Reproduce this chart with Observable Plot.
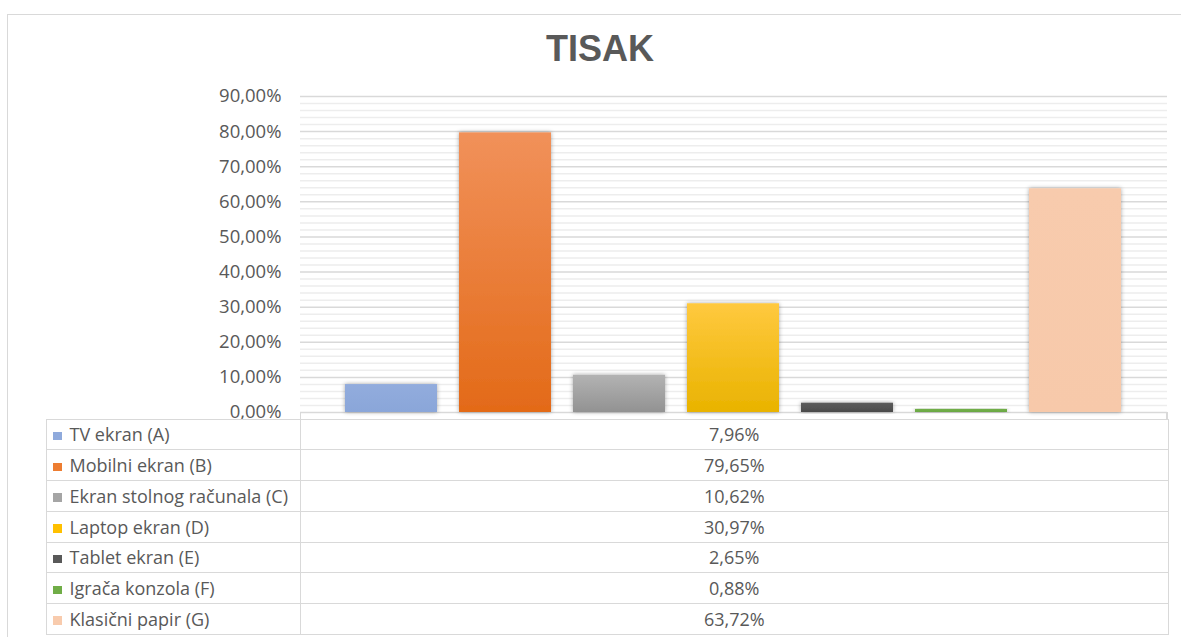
<!DOCTYPE html>
<html>
<head>
<meta charset="utf-8">
<script src="https://cdn.jsdelivr.net/npm/d3@7"></script>
<script src="https://cdn.jsdelivr.net/npm/@observablehq/plot@0.6"></script>
<style>
  html, body { margin: 0; padding: 0; background: #fff; }
  body { width: 1181px; height: 637px; position: relative; overflow: hidden; font-family: "Open Sans", sans-serif; }
  #frame { position: absolute; left: 7px; top: 14px; width: 1200px; height: 700px; border: 1.5px solid #d9d9d9; box-sizing: border-box; }
  #title { position: absolute; left: 0; width: 1200px; top: 28px; text-align: center; font-family: "Liberation Sans", Arial, sans-serif; font-weight: bold; font-size: 36px; color: #595959; }
  #chart { position: absolute; left: 0; top: 0; }
  #table { position: absolute; left: 46px; top: 418.5px; width: 1121.5px; border-collapse: collapse; table-layout: fixed; }
  #table td { border: 1.5px solid #d9d9d9; height: 30.75px; box-sizing: border-box; padding: 0; color: #595959; font-size: 18px; line-height: 1; }
  #table td.lab { padding-left: 6px; white-space: nowrap; overflow: hidden; }
  #table td.val { text-align: center; }
  .sw { display: inline-block; width: 8.5px; height: 8.5px; margin-right: 8px; vertical-align: 1px; }
  .tick { position: absolute; top: 412px; width: 1.5px; height: 8px; background: #d9d9d9; }
</style>
</head>
<body>
<div id="frame"></div>
<div id="title">TISAK</div>
<div id="chart"></div>
<table id="table"><colgroup><col style="width:254px"><col style="width:867.5px"></colgroup><tbody></tbody></table>
<div class="tick" style="left:299.5px"></div>
<div class="tick" style="left:1166px"></div>
<script>
const series = ["TV ekran (A)", "Mobilni ekran (B)", "Ekran stolnog računala (C)", "Laptop ekran (D)", "Tablet ekran (E)", "Igrača konzola (F)", "Klasični papir (G)"];
const values = [0.0796, 0.7965, 0.1062, 0.3097, 0.0265, 0.0088, 0.6372];
const valueLabels = ["7,96%", "79,65%", "10,62%", "30,97%", "2,65%", "0,88%", "63,72%"];
const swatch = ["#8faadc", "#ed7d31", "#a5a5a5", "#ffc000", "#595959", "#70ad47", "#f8cbad"];
const gradTop = ["#92acdd", "#f1915a", "#b3b3b3", "#ffc93f", "#5c5c5c", "#72af49", "#f8cbad"];
const gradBottom = ["#8aa6d9", "#e36a18", "#929292", "#e9b300", "#4b4b4b", "#6aa843", "#f7c9aa"];
const majorTicks = d3.range(0, 0.9001, 0.1);
const minorTicks = d3.range(0, 0.9001, 0.02).filter(v => Math.abs(Math.round(v * 10) - v * 10) > 1e-6);

const data = series.map((s, i) => ({ series: s, value: values[i], idx: i }));
const fmt = d => (d * 100).toFixed(2).replace(".", ",") + "%";

const chart = Plot.plot({
  width: 1181,
  height: 420,
  marginTop: 96,
  marginBottom: 8,
  marginLeft: 300,
  marginRight: 14,
  style: { background: "transparent", overflow: "visible" },
  x: { domain: series, range: [334.5, 1132.5], paddingInner: 0.19, paddingOuter: 0.095, axis: null },
  y: { domain: [0, 0.9], ticks: majorTicks, tickFormat: fmt, label: null },
  marks: [
    Plot.ruleY(minorTicks, { stroke: "#ededed", strokeWidth: 1.5 }),
    Plot.ruleY(majorTicks, { stroke: "#d9d9d9", strokeWidth: 1.5 }),
    Plot.axisY({ ticks: majorTicks, tickFormat: fmt, tickSize: 0, tickPadding: 19, fontSize: 18.5, fill: "#595959", fontFamily: "'Open Sans', sans-serif", label: null }),
    Plot.barY(data, { x: "series", y: "value", fill: d => `url(#g${d.idx})` }),
  ]
});
const svg = d3.select(chart);
const defs = svg.insert("defs", ":first-child");
series.forEach((s, i) => {
  const g = defs.append("linearGradient").attr("id", "g" + i).attr("x1", 0).attr("y1", 0).attr("x2", 0).attr("y2", 1);
  g.append("stop").attr("offset", "0%").attr("stop-color", gradTop[i]);
  g.append("stop").attr("offset", "100%").attr("stop-color", gradBottom[i]);
});
const f = defs.append("filter").attr("id", "shadow").attr("x", "-20%").attr("y", "-20%").attr("width", "140%").attr("height", "140%");
f.append("feDropShadow").attr("dx", 0).attr("dy", 0).attr("stdDeviation", 2.2).attr("flood-color", "#000").attr("flood-opacity", 0.35);
svg.selectAll("g[aria-label='bar'] rect").attr("filter", "url(#shadow)");
document.getElementById("chart").appendChild(chart);

const tbody = d3.select("#table tbody");
series.forEach((s, i) => {
  const tr = tbody.append("tr");
  const td = tr.append("td").attr("class", "lab");
  td.append("span").attr("class", "sw").style("background", swatch[i]);
  td.append("span").text(s);
  tr.append("td").attr("class", "val").text(valueLabels[i]);
});
</script>
</body>
</html>
